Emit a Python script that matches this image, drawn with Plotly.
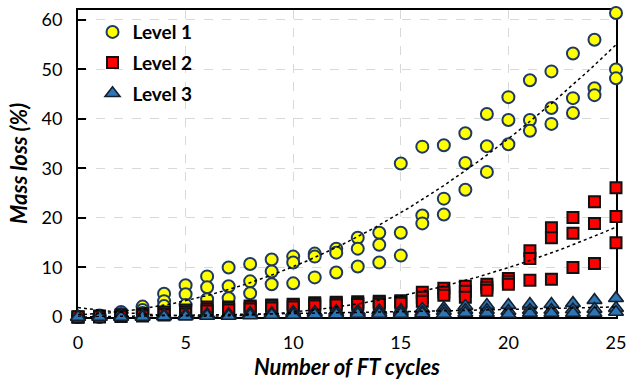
import numpy as np
import plotly.graph_objects as go

# Freeze-thaw cycles and mass loss (%) of three replicate specimens per cycle
cycles = list(range(26))

level1 = [
    [0.0, 0.0, 0.0], [0.3, 0.1, 0.0], [1.0, 0.6, 0.3], [2.1, 1.4, 0.8],
    [4.7, 3.2, 2.2], [6.4, 4.6, 2.4], [8.2, 6.0, 3.6], [10.0, 6.2, 3.8],
    [10.7, 7.2, 4.8], [11.6, 9.2, 6.6], [12.2, 11.0, 6.8], [12.8, 12.2, 8.0],
    [13.8, 13.0, 9.0], [16.0, 13.8, 10.2], [17.0, 14.6, 11.0], [31.0, 17.0, 12.4],
    [34.4, 20.5, 18.9], [34.7, 23.9, 20.7], [37.1, 31.1, 25.7], [41.0, 34.5, 29.3],
    [44.4, 39.8, 34.9], [47.8, 39.8, 37.6], [49.6, 42.2, 39.0], [53.2, 44.2, 41.2],
    [56.0, 46.2, 44.8], [61.4, 50.0, 48.2],
]

level2 = [
    [0.0, 0.0, 0.0], [0.2, 0.1, 0.0], [0.4, 0.2, 0.1], [0.6, 0.4, 0.2],
    [1.0, 0.6, 0.4], [1.4, 1.0, 0.6], [2.0, 1.6, 1.2], [2.0, 1.8, 1.4],
    [2.2, 2.0, 1.6], [2.4, 2.2, 1.8], [2.6, 2.4, 2.0], [2.9, 2.6, 2.2],
    [3.0, 2.8, 2.4], [3.1, 2.8, 2.5], [3.2, 3.0, 2.6], [3.3, 3.1, 2.8],
    [5.0, 4.0, 3.2], [5.8, 5.0, 4.4], [6.2, 5.2, 4.0], [6.6, 6.0, 5.4],
    [7.8, 7.2, 6.6], [13.4, 11.8, 7.4], [18.0, 16.0, 7.6], [20.1, 16.9, 10.0],
    [23.3, 18.9, 10.8], [26.1, 20.3, 15.0],
]

level3 = [
    [0.0, 0.0, 0.0], [0.0, 0.0, 0.0], [0.2, 0.1, 0.0], [0.3, 0.2, 0.0],
    [0.4, 0.2, 0.1], [0.5, 0.3, 0.1], [0.6, 0.4, 0.2], [0.6, 0.4, 0.2],
    [0.8, 0.5, 0.3], [0.8, 0.6, 0.4], [1.0, 0.7, 0.4], [1.0, 0.8, 0.5],
    [1.2, 0.8, 0.5], [1.2, 0.9, 0.6], [1.3, 0.9, 0.6], [1.4, 1.0, 0.6],
    [1.6, 1.0, 0.7], [1.8, 1.2, 0.6], [2.2, 1.4, 0.8], [2.4, 1.4, 0.8],
    [2.4, 1.2, 0.6], [2.6, 1.4, 0.8], [2.6, 1.4, 0.8], [2.8, 1.5, 0.8],
    [3.4, 1.6, 0.8], [3.8, 1.8, 1.0],
]

x_ticks = [0, 5, 10, 15, 20, 25]
y_ticks = [0, 10, 20, 30, 40, 50, 60]

FONT = "Lato"


def flatten(series):
    xs, ys = [], []
    for c, vals in zip(cycles, series):
        for v in vals:
            xs.append(c)
            ys.append(v)
    return xs, ys


fig = go.Figure()

styles = [
    ("Level 1", level1, dict(symbol="circle", size=12, color="#FFFF00",
                             line=dict(color="#1F3864", width=2))),
    ("Level 2", level2, dict(symbol="square", size=11, color="#FF0000",
                             line=dict(color="#111111", width=2))),
    ("Level 3", level3, dict(symbol="triangle-up", size=13, color="#2E75B6",
                             line=dict(color="#14202E", width=1.6))),
]

for i, (name, series, marker) in enumerate(styles):
    xs, ys = flatten(series)
    fig.add_trace(go.Scatter(
        x=xs, y=ys, mode="markers", name=name, marker=marker,
        cliponaxis=False, legendgroup=f"g{i}",
    ))

# Second-order polynomial trend lines through all replicates
xfit = np.linspace(0, 25, 200)
for name, series, _ in styles:
    xs, ys = flatten(series)
    coeffs = np.polyfit(xs, ys, 2)
    fig.add_trace(go.Scatter(
        x=xfit, y=np.polyval(coeffs, xfit), mode="lines",
        line=dict(color="black", width=1.5, dash="dot"),
        showlegend=False, hoverinfo="skip",
    ))

fig.update_layout(
    width=634, height=382,
    margin=dict(l=78, r=11, t=8, b=65),
    paper_bgcolor="white", plot_bgcolor="white",
    font=dict(family=FONT, size=18, color="black"),
    showlegend=True,
    legend=dict(
        x=0.027, y=0.99, xanchor="left", yanchor="top",
        bgcolor="rgba(0,0,0,0)", borderwidth=0,
        font=dict(family=FONT, size=19, color="black", weight="bold"),
        itemwidth=30, tracegroupgap=3, traceorder="grouped",
    ),
    xaxis=dict(
        range=[0, 25], tickvals=x_ticks, ticks="",
        showline=True, linecolor="black", linewidth=2, mirror=True,
        showgrid=True, gridcolor="#D9D9D9", griddash="dash", gridwidth=1,
        zeroline=False, layer="below traces",
        tickfont=dict(family=FONT, size=18),
        ticklabelstandoff=8,
        title=dict(text="<b><i>Number of FT cycles</i></b>",
                   font=dict(family=FONT, size=22), standoff=2),
    ),
    yaxis=dict(
        range=[0, 62], tickvals=y_ticks, ticks="inside", ticklen=8,
        tickwidth=2, tickcolor="black",
        showline=True, linecolor="black", linewidth=2, mirror=True,
        showgrid=True, gridcolor="#D9D9D9", griddash="dash", gridwidth=1,
        zeroline=False, layer="below traces",
        tickfont=dict(family=FONT, size=18),
        ticklabelstandoff=10,
        title=dict(text="<b><i>Mass loss (%)</i></b>",
                   font=dict(family=FONT, size=22), standoff=8),
    ),
)

fig.write_html("out.html")
